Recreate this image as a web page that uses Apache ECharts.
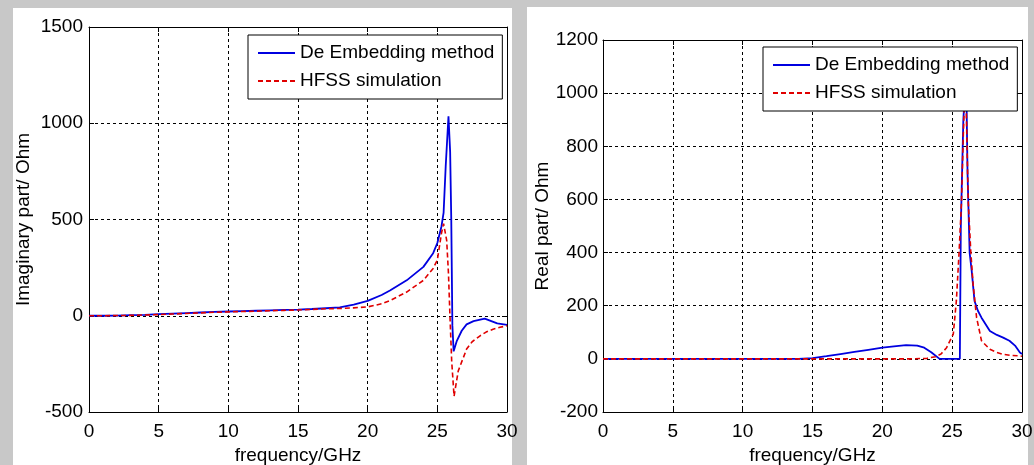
<!DOCTYPE html>
<html>
<head>
<meta charset="utf-8">
<script src="https://cdn.jsdelivr.net/npm/echarts@6/dist/echarts.min.js"></script>
<style>
  html, body { margin: 0; padding: 0; background: #c8c8c8; }
  #wrap { position: relative; width: 1034px; height: 465px; background: #c8c8c8; }
  .panel { position: absolute; background: #fff; }
  #chart { position: absolute; left: 0; top: 0; width: 1034px; height: 465px; }
</style>
</head>
<body>
<div id="wrap">
  <div class="panel" style="left:13px;top:8px;width:499px;height:457px;"></div>
  <div class="panel" style="left:527px;top:7px;width:501px;height:458px;"></div>
  <div id="chart"></div>
</div>
<script>
// 左图：虚部
var imagFreqBlue = [0, 1, 2, 3, 4, 5, 6, 7, 8, 9, 10, 11, 12, 13, 14, 15, 16, 17, 18, 19, 20, 21, 21.6, 22.8, 24, 24.7, 25, 25.3, 25.45, 25.6, 25.8, 25.92, 26.0, 26.08, 26.17, 26.4, 26.75, 27.1, 27.6, 28.4, 29.3, 30];
var imagBlue     = [0, 0, 1, 3, 5, 8, 11, 14, 17, 20, 22, 24, 26, 28, 30, 32, 35, 39, 43, 58, 77, 108, 131, 184, 254, 325, 378, 465, 536, 775, 1036, 850, 500, -50, -185, -130, -78, -45, -28, -15, -40, -47];
var imagFreqRed  = [0, 1, 2, 3, 4, 5, 6, 7, 8, 9, 10, 11, 12, 13, 14, 15, 16, 17, 18, 19, 20, 21, 21.6, 22.8, 24, 24.7, 25, 25.3, 25.45, 25.67, 25.8, 25.9, 26.03, 26.2, 26.5, 27.1, 27.5, 28.07, 28.5, 29.0, 29.5, 30];
var imagRed      = [0, 0, 1, 2, 4, 6, 9, 12, 15, 18, 20, 22, 24, 26, 28, 30, 33, 36, 38, 41, 46, 62, 79, 123, 184, 246, 289, 430, 478, 392, 218, 10, -235, -418, -287, -173, -135, -104, -85, -70, -60, -52];

// 右图：实部
var realFreqBlue = [0, 14, 15, 16, 17, 18, 19, 20, 21, 21.7, 22.5, 23, 23.5, 24.1, 25.55, 25.62, 25.8, 26.0, 26.1, 26.25, 26.4, 26.6, 26.85, 27.1, 27.7, 28.2, 28.65, 29.1, 29.5, 29.85, 30];
var realBlue     = [0, 0, 3, 10, 18, 26, 34, 42, 48, 52, 50, 42, 25, 0, 0, 500, 900, 1080, 700, 400, 330, 218, 180, 155, 105, 90, 80, 68, 50, 24, 18];
var realFreqRed  = [0, 22, 23.2, 23.8, 24.2, 24.6, 25.08, 25.3, 25.5, 25.67, 25.8, 25.9, 26.0, 26.15, 26.33, 26.5, 26.75, 27.1, 27.7, 28.2, 28.65, 29.2, 29.85, 30];
var realRed      = [0, 0, 2, 8, 18, 42, 93, 218, 406, 594, 845, 1000, 960, 594, 406, 280, 155, 68, 36, 24, 17, 13, 11, 10];

var xTicks = [0, 5, 10, 15, 20, 25, 30];
var seriesNames = ['De Embedding method', 'HFSS simulation'];

function pairs(xs, ys) {
    var out = [];
    for (var i = 0; i < xs.length; ++i) {
        out.push([xs[i], ys[i]]);
    }
    return out;
}

var font = "'Liberation Sans', Arial, sans-serif";
var gridLine = { show: true, lineStyle: { color: '#000', type: [3, 3], width: 1 } };
var plainNum = function (v) { return String(v); };   // 不要千分位逗号

function mainX(gi) {
    return {
        type: 'value', gridIndex: gi, min: xTicks[0], max: xTicks[xTicks.length - 1], interval: 5,
        axisLine: { show: true, onZero: false, lineStyle: { color: '#000', width: 1 } },
        axisTick: { show: true, inside: true, length: 5, lineStyle: { color: '#000' } },
        axisLabel: { color: '#000', fontSize: 19, fontFamily: font, margin: 10, formatter: plainNum },
        splitLine: gridLine,
        name: 'frequency/GHz', nameLocation: 'middle', nameGap: 33,
        nameTextStyle: { color: '#000', fontSize: 19, fontFamily: font }
    };
}
function topX(gi) {
    return {
        type: 'value', gridIndex: gi, position: 'top', min: 0, max: 30, interval: 5,
        axisLine: { show: true, onZero: false, lineStyle: { color: '#000', width: 1 } },
        axisTick: { show: true, inside: true, length: 5, lineStyle: { color: '#000' } },
        axisLabel: { show: false }, splitLine: { show: false }
    };
}
function mainY(gi, min, max, step, name, gap, margin) {
    return {
        type: 'value', gridIndex: gi, min: min, max: max, interval: step,
        axisLine: { show: true, onZero: false, lineStyle: { color: '#000', width: 1 } },
        axisTick: { show: true, inside: true, length: 5, lineStyle: { color: '#000' } },
        axisLabel: { color: '#000', fontSize: 19, fontFamily: font, margin: margin, formatter: plainNum },
        splitLine: gridLine,
        name: name, nameLocation: 'middle', nameGap: gap,
        nameTextStyle: { color: '#000', fontSize: 19, fontFamily: font }
    };
}
function rightY(gi, min, max, step) {
    return {
        type: 'value', gridIndex: gi, position: 'right', min: min, max: max, interval: step,
        axisLine: { show: true, onZero: false, lineStyle: { color: '#000', width: 1 } },
        axisTick: { show: true, inside: true, length: 5, lineStyle: { color: '#000' } },
        axisLabel: { show: false }, splitLine: { show: false }
    };
}
function legendAt(left, top) {
    return {
        left: left, top: top, orient: 'vertical',
        backgroundColor: '#fff', borderColor: '#000', borderWidth: 1, borderRadius: 0,
        padding: [8, 8, 8, 9], itemWidth: 37, itemHeight: 14, itemGap: 8,
        itemStyle: { opacity: 0 },
        textStyle: { color: '#000', fontSize: 19, fontFamily: font, lineHeight: 20 },
        data: seriesNames
    };
}
function blueLine(xi, yi, data) {
    return {
        name: seriesNames[0], type: 'line', xAxisIndex: xi, yAxisIndex: yi, data: data,
        symbol: 'none', lineStyle: { color: '#0000e0', width: 1.8 }, itemStyle: { color: '#0000e0' },
        animation: false
    };
}
function redLine(xi, yi, data) {
    return {
        name: seriesNames[1], type: 'line', xAxisIndex: xi, yAxisIndex: yi, data: data,
        symbol: 'none', lineStyle: { color: '#e00000', width: 1.6, type: [5, 3] }, itemStyle: { color: '#e00000' },
        animation: false
    };
}

var chart = echarts.init(document.getElementById('chart'));
var option = {
    backgroundColor: 'transparent',
    animation: false,
    grid: [
        { left: 89, top: 27, width: 418, height: 385, outerBoundsMode: 'none', show: true, backgroundColor: '#fff', borderColor: '#000', borderWidth: 0 },
        { left: 603, top: 40, width: 419, height: 372, outerBoundsMode: 'none', show: true, backgroundColor: '#fff', borderColor: '#000', borderWidth: 0 }
    ],
    legend: [legendAt(248, 35), legendAt(763, 47)],
    xAxis: [mainX(0), topX(0), mainX(1), topX(1)],
    yAxis: [
        mainY(0, -500, 1500, 500, 'Imaginary part/ Ohm', 56, 6),
        rightY(0, -500, 1500, 500),
        mainY(1, -200, 1200, 200, 'Real part/ Ohm', 47, 5),
        rightY(1, -200, 1200, 200)
    ],
    series: [
        blueLine(0, 0, pairs(imagFreqBlue, imagBlue)),
        redLine(0, 0, pairs(imagFreqRed, imagRed)),
        blueLine(2, 2, pairs(realFreqBlue, realBlue)),
        redLine(2, 2, pairs(realFreqRed, realRed))
    ]
};
chart.setOption(option);
</script>
</body>
</html>
